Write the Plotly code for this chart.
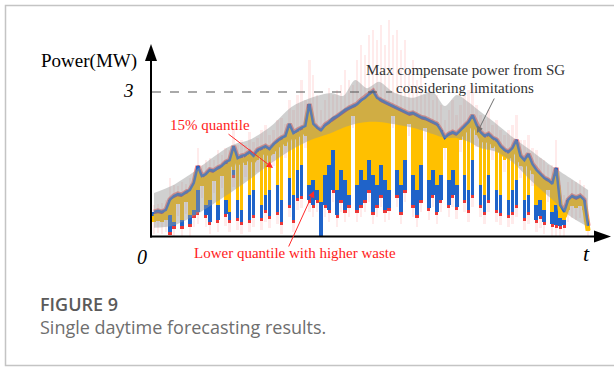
import plotly.graph_objects as go

# ---------------- data (MW) ----------------
t = list(range(110))

top = [0.52, 0.54, 0.52, 0.56, 0.77, 0.85, 0.89, 0.87, 0.93, 0.97,
       1.12, 1.47, 1.26, 1.30, 1.39, 1.37, 1.43, 1.47, 1.55, 1.59,
       1.88, 1.63, 1.68, 1.70, 1.76, 1.68, 1.80, 1.84, 1.88, 1.82,
       1.92, 1.99, 2.05, 2.09, 2.34, 2.15, 2.21, 2.26, 2.30, 2.75,
       2.34, 2.26, 2.21, 2.32, 2.38, 2.46, 2.50, 2.57, 2.63, 2.67,
       2.71, 2.75, 2.83, 2.88, 2.96, 3.02, 2.88, 2.83, 2.79, 2.75,
       2.71, 2.67, 2.63, 2.59, 2.55, 2.57, 2.52, 2.48, 2.46, 2.42,
       2.38, 2.34, 2.21, 2.05, 2.13, 2.17, 2.13, 2.21, 2.30, 2.38,
       2.52, 2.32, 2.17, 2.09, 2.13, 2.05, 2.01, 1.88, 1.80, 1.76,
       1.84, 2.01, 1.68, 1.59, 1.72, 1.51, 1.39, 1.30, 1.22, 1.18,
       1.10, 1.43, 0.66, 0.52, 0.77, 0.85, 0.81, 0.85, 0.77, 0.23]

yellow_low = [0.31, 0.33, 0.31, 0.35, 0.46, 0.31, 0.68, 0.35, 0.72, 0.46,
              0.56, 0.97, 1.06, 0.66, 0.77, 1.16, 0.66, 1.26, 0.77, 0.52,
              1.39, 0.77, 0.56, 1.49, 0.87, 0.97, 1.59, 0.66, 0.87, 0.97,
              1.72, 1.08, 0.77, 1.88, 1.22, 0.87, 1.39, 1.49, 2.09, 1.08,
              1.18, 0.97, 0.72, 1.28, 1.49, 1.80, 0.97, 1.39, 1.18, 0.87,
              2.50, 1.08, 1.39, 1.18, 1.59, 1.28, 1.08, 1.49, 1.18, 0.97,
              2.50, 1.39, 1.08, 1.59, 2.34, 1.28, 0.97, 1.49, 2.26, 1.18,
              1.39, 1.08, 1.28, 1.84, 1.18, 1.39, 1.08, 2.01, 1.28, 0.97,
              1.59, 2.11, 1.08, 0.87, 1.28, 1.84, 0.97, 0.87, 1.59, 0.77,
              0.97, 1.18, 1.47, 0.77, 0.87, 1.30, 0.66, 0.77, 0.56, 0.97,
              0.52, 0.66, 0.39, 0.35, 0.56, 0.64, 0.60, 0.64, 0.56, 0.14]

blue_low = [0.31, 0.33, 0.31, 0.35, 0.10, 0.23, 0.68, 0.23, 0.72, 0.27,
            0.46, 0.52, 1.06, 0.46, 0.31, 1.16, 0.35, 1.26, 0.48, 0.35,
            1.28, 0.39, 0.31, 1.49, 0.35, 0.46, 1.59, 0.39, 0.56, 0.43,
            1.72, 0.52, 0.31, 1.88, 0.66, 0.35, 0.81, 0.85, 2.09, 0.77,
            0.66, 0.77, 0.02, 0.66, 0.56, 0.97, 0.46, 0.77, 0.56, 0.66,
            2.50, 0.56, 0.66, 0.77, 0.97, 0.52, 0.66, 0.87, 0.56, 0.60,
            2.50, 0.87, 0.52, 0.97, 2.34, 0.66, 0.46, 0.77, 2.26, 0.60,
            0.87, 0.52, 0.77, 1.84, 0.66, 0.87, 0.62, 2.01, 0.77, 0.56,
            0.87, 2.11, 0.66, 0.52, 0.77, 1.84, 0.56, 0.50, 1.59, 0.46,
            0.52, 0.66, 1.47, 0.39, 0.52, 1.30, 0.35, 0.43, 0.31, 0.97,
            0.27, 0.25, 0.23, 0.25, 0.56, 0.64, 0.60, 0.64, 0.56, 0.14]

interval_high = [0.66, 0.68, 0.70, 0.77, 1.22, 1.08, 1.06, 1.14, 1.10, 1.22,
                 1.34, 1.84, 1.49, 1.59, 1.63, 1.59, 1.80, 1.70, 1.84, 1.80,
                 2.26, 1.90, 2.01, 1.90, 2.17, 1.97, 2.05, 2.21, 2.32, 2.11,
                 2.21, 2.42, 2.46, 2.34, 2.83, 2.63, 2.94, 3.25, 2.83, 3.66,
                 3.35, 2.94, 2.63, 2.83, 3.08, 2.94, 3.04, 3.15, 3.46, 3.25,
                 3.15, 3.66, 3.97, 3.77, 4.18, 4.28, 4.08, 4.39, 3.97, 4.49,
                 4.18, 4.28, 3.87, 4.08, 3.46, 3.66, 3.25, 3.35, 2.94, 3.15,
                 2.83, 2.94, 2.73, 2.42, 2.63, 2.83, 2.52, 2.73, 2.94, 3.04,
                 3.15, 2.73, 2.52, 2.42, 2.63, 2.32, 2.42, 2.21, 2.11, 2.21,
                 2.32, 2.52, 2.01, 2.01, 2.11, 1.84, 1.80, 1.63, 1.59, 1.49,
                 1.49, 2.01, 1.08, 0.87, 1.14, 1.18, 1.14, 1.18, 1.08, 0.46]

band_t = [0, 4.5, 9.5, 14.5, 19.5, 24.5, 29.5, 34.5, 39.5, 44.5, 47.5, 50.5,
          53.5, 56.5, 60, 65, 70, 73, 76, 79, 82, 86, 90, 94.5, 99.5, 104.5, 109]
band_upper = [0.91, 1.06, 1.32, 1.63, 1.90, 2.03, 2.30, 2.69, 2.88, 2.98, 2.92, 3.25,
              3.08, 3.21, 3.00, 2.88, 3.00, 2.71, 2.94, 2.79, 2.59, 2.34, 2.07, 1.80,
              1.49, 1.22, 0.97]
band_lower = [0.19, 0.23, 0.41, 0.66, 0.93, 1.22, 1.53, 1.80, 2.01, 2.15, 2.26, 2.34,
              2.38, 2.38, 2.34, 2.26, 2.13, 2.05, 2.05, 1.97, 1.84, 1.76, 1.55, 1.18,
              0.81, 0.43, 0.21]

limit_level = 3.0

# ---------------- geometry helpers ----------------
W, H = 614, 367
ML, MR, MT, MB = 152, 4, 15, 130
PW, PH = W - ML - MR, H - MT - MB
YMAX = PH / 48.33


def px(x):
    return (x - ML) / PW


def py(y):
    return (H - MB - y) / PH


fig = go.Figure()

is_dip = [b < y - 0.01 or y < a - 0.3 for a, y, b in zip(top, yellow_low, blue_low)]

pink_base = [b - 0.25 for b in blue_low]
fig.add_trace(go.Bar(x=t, base=pink_base, y=[h - b for h, b in zip(interval_high, pink_base)],
                     width=0.6, marker=dict(color='rgba(255,70,70,0.11)', line=dict(width=0))))
fig.add_trace(go.Bar(x=t, base=[b - 0.06 if d else None for b, d in zip(blue_low, is_dip)],
                     y=[0.08 if d else None for d in is_dip],
                     width=0.85, marker=dict(color='rgba(235,35,35,0.9)', line=dict(width=0))))
fig.add_trace(go.Bar(x=t, base=blue_low, y=[a - b for a, b in zip(top, blue_low)],
                     width=0.92, marker=dict(color='#1f63c9', line=dict(width=0))))
fig.add_trace(go.Bar(x=t, base=yellow_low, y=[max(a - 0.08 - b, 0) for a, b in zip(top, yellow_low)],
                     width=0.92, marker=dict(color='#ffc000', line=dict(width=0))))

# forecast trace along the top (red edge, yellow body, blue crest)
fig.add_trace(go.Scatter(x=t, y=top, mode='lines', line=dict(color='rgba(235,40,40,0.55)', width=5),
                         hoverinfo='skip'))
fig.add_trace(go.Scatter(x=t, y=[a - 0.1 for a in top], mode='lines', line=dict(color='#ffc000', width=5),
                         hoverinfo='skip'))
fig.add_trace(go.Scatter(x=t, y=top, mode='lines', line=dict(color='#2a64c4', width=2.5),
                         hoverinfo='skip'))

fig.add_trace(go.Scatter(x=band_t, y=band_lower, mode='lines',
                         line=dict(width=0, shape='spline', smoothing=0.8), hoverinfo='skip'))
fig.add_trace(go.Scatter(x=band_t, y=band_upper, mode='lines',
                         line=dict(width=0, shape='spline', smoothing=0.8),
                         fill='tonexty', fillcolor='rgba(150,150,150,0.45)', hoverinfo='skip'))

shapes = [
    dict(type='rect', xref='paper', yref='paper', x0=px(5.5), x1=px(640), y0=py(365.5), y1=py(5.5),
         line=dict(color='#c4c4c4', width=1.5), layer='below'),
    dict(type='line', xref='x', yref='y', x0=-0.5, x1=59.8, y0=limit_level, y1=limit_level,
         line=dict(color='#555555', width=1.2, dash='dash')),
    dict(type='line', xref='paper', yref='paper', x0=px(151), x1=px(151), y0=py(237.5), y1=py(58),
         line=dict(color='black', width=2)),
    dict(type='path', xref='paper', yref='paper',
         path=f'M {px(151)},{py(44)} L {px(145)},{py(61)} L {px(157)},{py(61)} Z',
         fillcolor='black', line=dict(color='black', width=0)),
    dict(type='line', xref='paper', yref='paper', x0=px(150), x1=px(596), y0=py(236.5), y1=py(236.5),
         line=dict(color='black', width=2)),
    dict(type='path', xref='paper', yref='paper',
         path=f'M {px(611)},{py(236.5)} L {px(594)},{py(230.5)} L {px(594)},{py(242.5)} Z',
         fillcolor='black', line=dict(color='black', width=0)),
]

serif = 'Liberation Serif'
ann = []


def label(text, x, y, size, color='black', family=serif, xanchor='center', weight=None):
    f = dict(family=family, size=size, color=color)
    if weight:
        f['weight'] = weight
    ann.append(dict(text=text, x=px(x), y=py(y), xref='paper', yref='paper', showarrow=False,
                    xanchor=xanchor, yanchor='middle', font=f))


def arrow(hx, hy, tx, ty, color):
    ann.append(dict(text='', x=px(hx), y=py(hy), xref='paper', yref='paper', showarrow=True,
                    ax=tx - hx, ay=ty - hy, arrowhead=2, arrowsize=1.3, arrowwidth=1,
                    arrowcolor=color, standoff=0, startstandoff=0))


label('Power(MW)', 89, 61, 19)
label('<i>3</i>', 128, 91, 19)
label('<i>0</i>', 142, 257, 20)
label('<i>t</i>', 586, 254, 22)
label('15% quantile', 210, 125, 15, color='#ff1a1a')
label('Lower quantile with higher waste', 295, 253, 15, color='#ff1a1a')
label('Max compensate power from SG', 465, 70, 15, color='#333333')
label('considering limitations', 465, 88, 15, color='#333333')
label('FIGURE 9', 38, 304, 18, color='#5a5a5a', family='Open Sans', xanchor='left', weight=600)
label('Single daytime forecasting results.', 38, 327, 18, color='#6e6e6e', family='Open Sans', xanchor='left')

arrow(273, 168, 227, 133, '#ff2a2a')
arrow(314, 191, 288, 248, '#ff2a2a')
arrow(477, 133, 495, 97, '#707070')

fig.update_layout(
    width=W, height=H,
    margin=dict(l=ML, r=MR, t=MT, b=MB),
    paper_bgcolor='white', plot_bgcolor='white',
    showlegend=False, barmode='overlay', bargap=0,
    xaxis=dict(range=[-0.5, 114.5], visible=False, fixedrange=True),
    yaxis=dict(range=[0, YMAX], visible=False, fixedrange=True),
    shapes=shapes, annotations=ann,
)

fig.write_html('out.html', config={'displayModeBar': False},
               post_script="document.body.style.margin='0px';")
